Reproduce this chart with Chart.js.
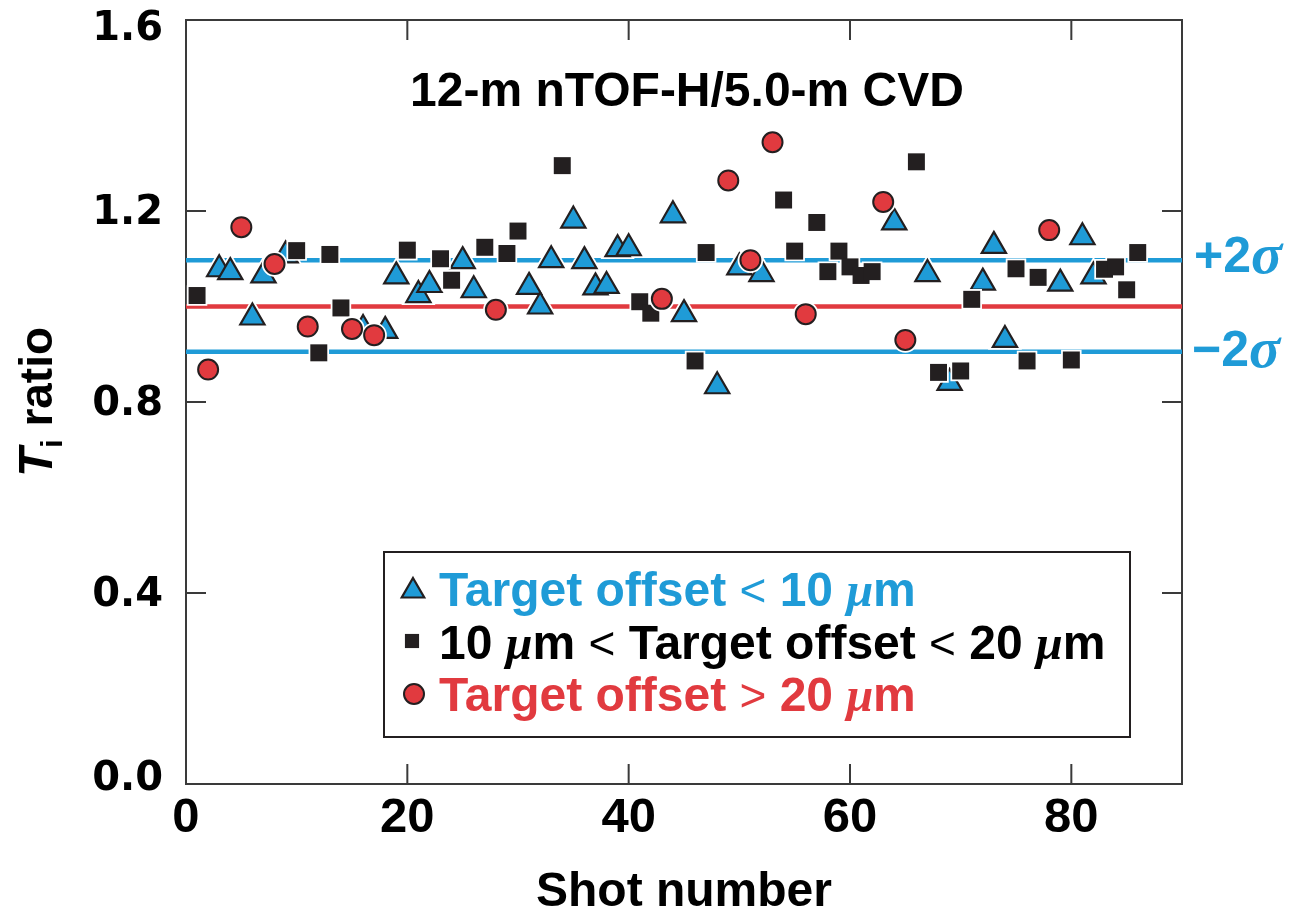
<!DOCTYPE html>
<html>
<head>
<meta charset="utf-8">
<title>Ti ratio by shot</title>
<script src="https://cdn.jsdelivr.net/npm/chart.js@4.4.1/dist/chart.umd.min.js"></script>
<style>
  html, body { margin: 0; padding: 0; background: #fff; }
  #wrap { width: 1289px; height: 913px; position: relative; }
</style>
</head>
<body>
<div id="wrap"><canvas id="chart"></canvas></div>
<script>
// Ti ratio (12-m nTOF-H / 5.0-m CVD) per shot, split by target offset

// offset < 10 um
const TRI_SHOTS = [3, 4, 6, 7, 9, 16, 18, 19, 21, 22, 25, 26, 31, 32, 33, 35, 36, 37, 38, 39, 40,
  44, 45, 48, 50, 52, 64, 67, 69, 72, 73, 74, 79, 81, 82];
const TRI_RATIO = [1.078, 1.072, 0.977, 1.065, 1.107, 0.953, 0.949, 1.063, 1.024, 1.045, 1.095, 1.034,
  1.041, 1.000, 1.097, 1.180, 1.095, 1.040, 1.043, 1.120, 1.122, 1.191, 0.984, 0.833, 1.082, 1.068,
  1.176, 1.068, 0.840, 1.050, 1.127, 0.930, 1.048, 1.145, 1.063];

// 10 um < offset < 20 um
const SQ_SHOTS = [1, 10, 12, 13, 14, 20, 23, 24, 27, 29, 30, 34, 41, 42, 46, 47, 54, 55, 57, 58, 59,
  60, 61, 62, 66, 68, 70, 71, 75, 76, 77, 80, 83, 84, 85, 86];
const SQ_RATIO = [1.023, 1.117, 0.903, 1.109, 0.997, 1.118, 1.100, 1.055, 1.124, 1.111, 1.158, 1.295,
  1.010, 0.986, 0.886, 1.113, 1.223, 1.116, 1.176, 1.073, 1.116, 1.083, 1.065, 1.073, 1.303, 0.862,
  0.865, 1.015, 1.079, 0.886, 1.061, 0.888, 1.078, 1.083, 1.035, 1.113];

// offset > 20 um
const CIRC_SHOTS = [2, 5, 8, 11, 15, 17, 28, 43, 49, 51, 53, 56, 63, 65, 78];
const CIRC_RATIO = [0.868, 1.166, 1.089, 0.958, 0.953, 0.940, 0.993, 1.016, 1.264, 1.097, 1.344,
  0.984, 1.219, 0.930, 1.160];

const MEAN = 1.0;
const PLUS_2SIGMA = 1.097;
const MINUS_2SIGMA = 0.905;

const X_TICKS = [0, 20, 40, 60, 80];
const Y_TICKS = [0.0, 0.4, 0.8, 1.2, 1.6];
const X_MAX = 90;

const BLUE = "#1f9bd7";
const RED = "#e13a3f";
const INK = "#231f20";
const FRAME = "#3a3a3a";

const SANS = "'Liberation Sans', Arial, sans-serif";
const WIDE = "'DejaVu Sans', sans-serif";
const SERIF = "'Liberation Serif', 'Times New Roman', serif";

function points(shots, vals) {
  return shots.map((s, i) => ({ x: s, y: vals[i] }));
}

function hline(y, color) {
  return {
    data: [{ x: 0, y }, { x: X_MAX, y }],
    showLine: true, borderColor: color, borderWidth: 4.5,
    pointRadius: 0, order: 20, clip: false
  };
}

// each mark gets a white halo drawn just under it
function marks(data, style, radius, fill, edge, edgeWidth, order) {
  return [
    { data, pointStyle: style, pointRadius: radius, pointBackgroundColor: "#fff",
      pointBorderColor: "#fff", pointBorderWidth: edgeWidth + 3.5, order: order + 1, clip: false },
    { data, pointStyle: style, pointRadius: radius, pointBackgroundColor: fill,
      pointBorderColor: edge, pointBorderWidth: edgeWidth, order, clip: false }
  ];
}

function rich(ctx, parts, x, y) {
  parts.forEach(([text, font, color]) => {
    ctx.font = font;
    ctx.fillStyle = color;
    ctx.fillText(text, x, y);
    x += ctx.measureText(text).width;
  });
}

const B = px => `bold ${px}px ${SANS}`;
const N = px => `${px}px ${SANS}`;
const MU = px => `italic bold ${px}px ${SERIF}`;

// fixed axis sizes, and no extra room for the end labels
function fixSize(prop, size) {
  return s => {
    s[prop] = size;
    s.paddingTop = s.paddingBottom = s.paddingLeft = s.paddingRight = 0;
  };
}

const decor = {
  id: "decor",
  beforeDatasetsDraw(chart) {
    const { ctx, chartArea: a, scales: { x, y } } = chart;
    const T = 20;
    ctx.save();
    ctx.strokeStyle = FRAME;
    ctx.lineWidth = 2;
    ctx.strokeRect(a.left, a.top, a.right - a.left, a.bottom - a.top);
    ctx.beginPath();
    X_TICKS.slice(1).forEach(v => {
      const px = x.getPixelForValue(v);
      ctx.moveTo(px, a.bottom); ctx.lineTo(px, a.bottom - T);
      ctx.moveTo(px, a.top); ctx.lineTo(px, a.top + T);
    });
    Y_TICKS.slice(1, -1).forEach(v => {
      const py = y.getPixelForValue(v);
      ctx.moveTo(a.left, py); ctx.lineTo(a.left + T, py);
      ctx.moveTo(a.right, py); ctx.lineTo(a.right - T, py);
    });
    ctx.stroke();

    // y tick labels, end ones kept inside the frame height
    ctx.font = `bold 40px ${WIDE}`;
    ctx.fillStyle = "#000";
    ctx.textAlign = "right";
    ctx.textBaseline = "middle";
    Y_TICKS.forEach(v => {
      const py = y.getPixelForValue(v) + 3;
      ctx.fillText(v.toFixed(1), a.left - 23, Math.min(Math.max(py, a.top + 10), a.bottom - 4));
    });
    ctx.restore();
  },
  afterDatasetsDraw(chart) {
    const { ctx, chartArea: a, scales: { y } } = chart;
    ctx.save();
    ctx.textBaseline = "alphabetic";

    // title inside the frame
    ctx.textAlign = "center";
    ctx.font = B(48);
    ctx.fillStyle = "#000";
    ctx.fillText("12-m nTOF-H/5.0-m CVD", 687, 106);

    // x-axis title
    ctx.fillText("Shot number", 684, 906);

    // y-axis title: T_i ratio
    ctx.textAlign = "left";
    ctx.translate(52, 402);
    ctx.rotate(-Math.PI / 2);
    const yParts = [["T", `italic bold 48px ${SANS}`, 0], ["i", B(30), 10], [" ratio", B(46), 0]];
    let w = 0;
    yParts.forEach(([t, f]) => { ctx.font = f; w += ctx.measureText(t).width; });
    let lx = -w / 2;
    yParts.forEach(([t, f, dy]) => {
      ctx.font = f; ctx.fillStyle = "#000";
      ctx.fillText(t, lx, dy);
      lx += ctx.measureText(t).width;
    });
    ctx.setTransform(1, 0, 0, 1, 0, 0);

    // +/-2 sigma labels at the right of the band lines
    ctx.textBaseline = "middle";
    rich(ctx, [["+2", B(50), BLUE], ["\u03c3", MU(58), BLUE]], a.right + 12, y.getPixelForValue(PLUS_2SIGMA) - 2);
    rich(ctx, [["\u22122", B(50), BLUE], ["\u03c3", MU(58), BLUE]], a.right + 10, y.getPixelForValue(MINUS_2SIGMA));

    // legend
    ctx.textBaseline = "alphabetic";
    ctx.fillStyle = "#fff";
    ctx.fillRect(384, 552, 746, 185);
    ctx.strokeStyle = INK;
    ctx.lineWidth = 2;
    ctx.strokeRect(384, 552, 746, 185);

    const draw = Chart.helpers.drawPoint;
    ctx.fillStyle = BLUE; ctx.strokeStyle = INK; ctx.lineWidth = 2.2;
    draw(ctx, { pointStyle: "triangle", radius: 13, borderWidth: 2.2, rotation: 0 }, 413, 591);
    ctx.fillStyle = INK;
    draw(ctx, { pointStyle: "rect", radius: 10, borderWidth: 0, rotation: 0 }, 412, 641);
    ctx.fillStyle = RED; ctx.strokeStyle = INK; ctx.lineWidth = 2;
    draw(ctx, { pointStyle: "circle", radius: 10, borderWidth: 2, rotation: 0 }, 414, 694);

    const tx = 439;
    rich(ctx, [["Target offset ", B(48), BLUE], ["<", N(46), BLUE], [" 10 ", B(48), BLUE],
      ["\u03bc", MU(48), BLUE], ["m", B(48), BLUE]], tx, 606);
    rich(ctx, [["10 ", B(48), "#000"], ["\u03bc", MU(48), "#000"], ["m ", B(48), "#000"],
      ["<", N(46), "#000"], [" Target offset ", B(48), "#000"], ["<", N(46), "#000"],
      [" 20 ", B(48), "#000"], ["\u03bc", MU(48), "#000"], ["m", B(48), "#000"]], tx, 659);
    rich(ctx, [["Target offset ", B(48), RED], [">", N(46), RED], [" 20 ", B(48), RED],
      ["\u03bc", MU(48), RED], ["m", B(48), RED]], tx, 711);
    ctx.restore();
  }
};

new Chart(document.getElementById("chart"), {
  type: "scatter",
  data: {
    datasets: [
      hline(PLUS_2SIGMA, BLUE),
      hline(MEAN, RED),
      hline(MINUS_2SIGMA, BLUE),
      ...marks(points(TRI_SHOTS, TRI_RATIO), "triangle", 14, BLUE, INK, 2.2, 6),
      ...marks(points(SQ_SHOTS, SQ_RATIO), "rect", 12, INK, INK, 0, 4),
      ...marks(points(CIRC_SHOTS, CIRC_RATIO), "circle", 10, RED, INK, 2, 2)
    ]
  },
  options: {
    responsive: true,
    maintainAspectRatio: false,
    animation: false,
    events: [],
    layout: { padding: { left: 0, right: 107, top: 20, bottom: 0 } },
    plugins: { legend: { display: false }, tooltip: { enabled: false } },
    scales: {
      x: {
        type: "linear", min: 0, max: X_MAX,
        afterBuildTicks: s => { s.ticks = X_TICKS.map(v => ({ value: v })); },
        afterFit: fixSize("height", 129),
        grid: { display: false, drawTicks: false },
        border: { display: false },
        ticks: { padding: 5, color: "#000", maxRotation: 0, autoSkip: false,
          font: { family: SANS, size: 49, weight: "bold" } }
      },
      y: {
        type: "linear", min: 0, max: 1.6,
        afterBuildTicks: s => { s.ticks = Y_TICKS.map(v => ({ value: v })); },
        afterFit: fixSize("width", 186),
        grid: { display: false, drawTicks: false },
        border: { display: false },
        ticks: { display: false }
      }
    }
  },
  plugins: [decor]
});
</script>
</body>
</html>
